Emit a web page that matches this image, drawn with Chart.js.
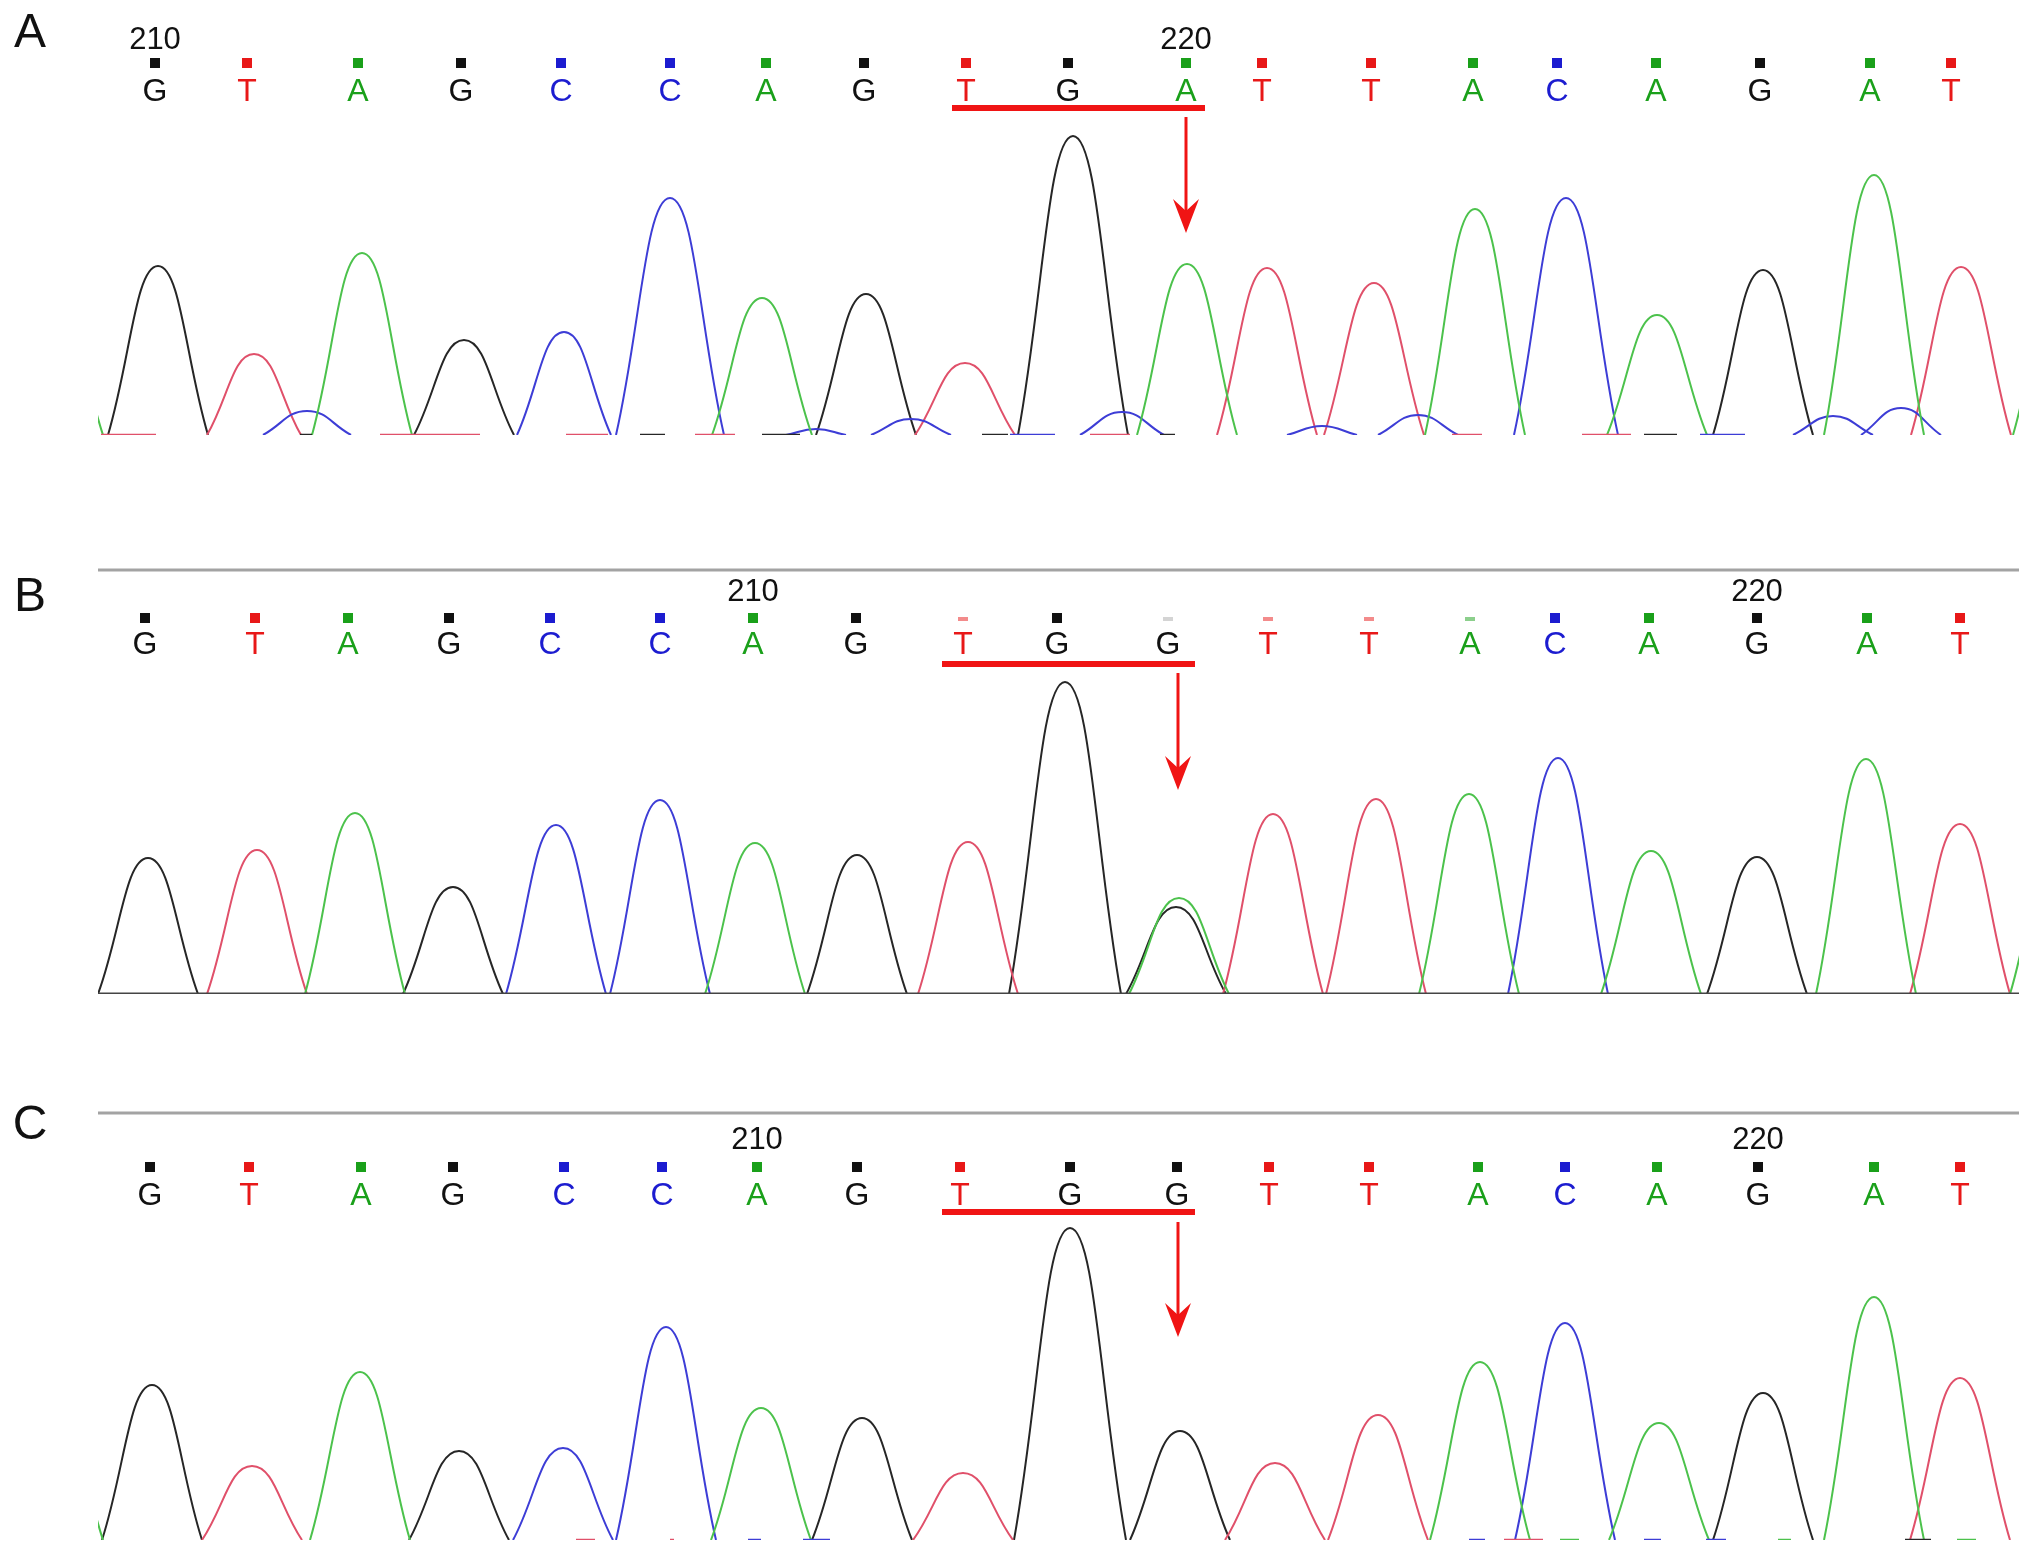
<!DOCTYPE html>
<html>
<head>
<meta charset="utf-8">
<script src="https://cdn.jsdelivr.net/npm/chart.js@4.4.1/dist/chart.umd.min.js"></script>
<style>
  html, body { margin: 0; padding: 0; background: #fff; }
  body { width: 2032px; height: 1554px; position: relative; overflow: hidden; }
  canvas { position: absolute; left: 0; }
</style>
</head>
<body>
<canvas id="panelA" width="2032" height="470" style="top:0px"></canvas>
<canvas id="panelB" width="2032" height="490" style="top:540px"></canvas>
<canvas id="panelC" width="2032" height="464" style="top:1090px"></canvas>
<script>
// base calls (same sequence in all three reads, B and C carry the mutation G at index 10)
const seqA = ['G','T','A','G','C','C','A','G','T','G','A','T','T','A','C','A','G','A','T'];
const seqB = ['G','T','A','G','C','C','A','G','T','G','G','T','T','A','C','A','G','A','T'];
const seqC = ['G','T','A','G','C','C','A','G','T','G','G','T','T','A','C','A','G','A','T'];

// scan position of each base call
const callsA = [57,149,260,363,463,572,668,766,868,970,1088,1164,1273,1375,1459,1558,1662,1772,1853];
const callsB = [47,157,250,351,452,562,655,758,865,959,1070,1170,1271,1372,1457,1551,1659,1769,1862];
const callsC = [52,151,263,355,466,564,659,759,862,972,1079,1171,1271,1380,1467,1559,1660,1776,1862];

// call quality (0 = weak call, square drawn faint)
const qualA = [1,1,1,1,1,1,1,1,1,1,1,1,1,1,1,1,1,1,1];
const qualB = [1,1,1,1,1,1,1,1,0,1,0,0,0,0,1,1,1,1,1];
const qualC = [1,1,1,1,1,1,1,1,1,1,1,1,1,1,1,1,1,1,1];

// position ticks: [base index, label]
const ticksA = [[0,'210'],[10,'220']];
const ticksB = [[6,'210'],[16,'220']];
const ticksC = [[6,'210'],[16,'220']];

// peaks: [scan, height, halfwidth?]
const aG = [[60,169],[366,95],[768,141],[975,299,55],[1665,165]];
const aT = [[156,81,47],[867,72],[1169,167],[1276,152],[1863,168]];
const aA = [[-45,150],[264,182],[664,137],[1089,171],[1377,226],[1559,120],[1776,260],[1965,170]];
const aC = [[209,24,44],[466,103,47],[572,237,54],[718,6,30],[813,16,40],[1024,23,42],[1224,9,35],[1320,20,40],[1468,237,52],[1735,19,40],[1803,27,40]];

const bG = [[50,136],[355,107],[759,139],[967,312,56],[1078,87],[1659,137]];
const bT = [[159,144],[870,152],[1175,180],[1278,195],[1862,170]];
const bA = [[257,181],[657,151],[1081,96],[1371,200],[1553,143],[1768,235],[1962,165]];
const bC = [[458,169],[562,194],[1460,236]];

const cG = [[54,155],[361,89],[764,122],[972,312,56],[1082,109],[1665,147]];
const cT = [[154,74],[865,67],[1177,77],[1280,125],[1862,162]];
const cA = [[-45,150],[262,168],[663,132],[1382,178],[1561,117],[1776,243]];
const cC = [[465,92],[568,213],[1467,217]];

// baseline noise: [base, from, to]
const noiseA = [['T',3,58],['G',202,214],['T',282,382],['T',468,510],['G',542,567],['T',597,637],['G',664,702],
  ['G',884,910],['C',912,957],['T',992,1032],['G',1062,1077],['T',1354,1384],['T',1484,1533],['G',1546,1579],['C',1602,1647]];
const noiseB = [['G',0,1921]];
const noiseC = [['T',478,497],['T',572,576],['C',650,663],['C',705,732],['C',1371,1387],['T',1406,1445],['A',1462,1481],
  ['C',1546,1563],['C',1608,1628],['A',1680,1693],['G',1807,1833],['A',1859,1878]];

const traceCol = { G: '#262626', A: '#4cc24c', T: '#e0506a', C: '#3d3dd6' };
const textCol  = { G: '#111111', A: '#1aa01a', T: '#e81818', C: '#1c1cd0' };
const FONT = '"Liberation Sans", Arial, Helvetica, sans-serif';

function peakData(peaks) {
  const pts = [];
  peaks.forEach(p => {
    const w = p[2] || 50;
    pts.push({x: p[0] - w - 1, y: null});
    pts.push({x: p[0] - w, y: 0});
    pts.push({x: p[0], y: p[1]});
    pts.push({x: p[0] + w, y: 0});
  });
  pts.push({x: 3000, y: null});
  return pts;
}

function noiseSets(noise, gray) {
  return noise.map(n => ({
    data: [{x: n[1], y: 0}, {x: n[2], y: 0}],
    borderColor: gray ? '#444' : traceCol[n[0]],
    borderWidth: gray ? 3 : 2.5,
    pointRadius: 0,
    tension: 0
  }));
}

function callsPlugin(cfg) {
  return {
    id: 'calls',
    afterDraw(chart) {
      const ctx = chart.ctx, area = chart.chartArea, xs = chart.scales.x;
      const b = area.bottom;
      ctx.save();
      ctx.fillStyle = '#111';
      ctx.textAlign = 'center';
      ctx.font = '48px ' + FONT;
      ctx.fillText(cfg.panel, 30, b + cfg.panelY + 17);
      if (cfg.sepY) {
        ctx.strokeStyle = '#a3a3a3';
        ctx.lineWidth = 3;
        ctx.beginPath();
        ctx.moveTo(area.left, b + cfg.sepY);
        ctx.lineTo(area.right, b + cfg.sepY);
        ctx.stroke();
      }
      ctx.font = '31px ' + FONT;
      ctx.fillStyle = '#111';
      cfg.ticks.forEach(t => ctx.fillText(t[1], xs.getPixelForValue(cfg.calls[t[0]]), b + cfg.numY + 11));
      ctx.font = '32px ' + FONT;
      cfg.seq.forEach((s, i) => {
        const x = xs.getPixelForValue(cfg.calls[i]);
        ctx.fillStyle = textCol[s];
        ctx.fillText(s, x, b + cfg.letY + 11.5);
        if (cfg.qual[i]) {
          ctx.fillRect(x - 5, b + cfg.sqY - 5, 10, 10);
        } else {
          ctx.globalAlpha = 0.5;
          ctx.fillStyle = s === 'G' ? '#aaa' : textCol[s];
          ctx.fillRect(x - 5, b + cfg.sqY - 1, 10, 4);
          ctx.globalAlpha = 1;
        }
      });
      // highlighted codon
      const x0 = xs.getPixelForValue(cfg.bar[0]), x1 = xs.getPixelForValue(cfg.bar[1]);
      ctx.fillStyle = '#f01414';
      ctx.fillRect(x0, b + cfg.barY - 3, x1 - x0, 6);
      // arrow
      const ax = xs.getPixelForValue(cfg.arrowX);
      ctx.strokeStyle = '#f01414';
      ctx.lineWidth = 3;
      ctx.beginPath();
      ctx.moveTo(ax, b + cfg.arrow[0]);
      ctx.lineTo(ax, b + cfg.arrow[1] - 20);
      ctx.stroke();
      ctx.beginPath();
      ctx.moveTo(ax - 13, b + cfg.arrow[1] - 34);
      ctx.lineTo(ax, b + cfg.arrow[1] - 22);
      ctx.lineTo(ax + 13, b + cfg.arrow[1] - 34);
      ctx.lineTo(ax, b + cfg.arrow[1]);
      ctx.closePath();
      ctx.fill();
      ctx.restore();
    }
  };
}

function makePanel(id, peaks, noise, gray, pad, cfg) {
  const sets = noiseSets(noise, gray);
  ['A', 'C', 'T', 'G'].forEach(base => {
    sets.push({
      data: peakData(peaks[base]),
      borderColor: traceCol[base],
      borderWidth: 2,
      pointRadius: 0,
      tension: 0.45,
      spanGaps: false
    });
  });
  new Chart(id, {
    type: 'line',
    data: { datasets: sets },
    options: {
      responsive: false,
      animation: false,
      events: [],
      layout: { padding: pad },
      plugins: { legend: { display: false }, tooltip: { enabled: false } },
      scales: {
        x: { type: 'linear', min: 0, max: 1921, display: false },
        y: { type: 'linear', min: 0, max: 330, display: false }
      }
    },
    plugins: [callsPlugin(cfg)]
  });
}

makePanel('panelA', {G: aG, A: aA, T: aT, C: aC}, noiseA, false,
  {left: 98, right: 13, top: 105, bottom: 35},
  {panel: 'A', panelY: -405, seq: seqA, calls: callsA, qual: qualA, ticks: ticksA,
   numY: -397, sqY: -372, letY: -346, barY: -327, bar: [854, 1107], arrowX: 1088, arrow: [-318, -202]});

makePanel('panelB', {G: bG, A: bA, T: bT, C: bC}, noiseB, true,
  {left: 98, right: 13, top: 124, bottom: 36},
  {panel: 'B', panelY: -400, sepY: -424, seq: seqB, calls: callsB, qual: qualB, ticks: ticksB,
   numY: -404, sqY: -376, letY: -352, barY: -330, bar: [844, 1097], arrowX: 1080, arrow: [-321, -204]});

makePanel('panelC', {G: cG, A: cA, T: cT, C: cC}, noiseC, false,
  {left: 98, right: 13, top: 120, bottom: 14},
  {panel: 'C', panelY: -418, sepY: -427, seq: seqC, calls: callsC, qual: qualC, ticks: ticksC,
   numY: -402, sqY: -373, letY: -347, barY: -328, bar: [844, 1097], arrowX: 1080, arrow: [-318, -203]});
</script>
</body>
</html>
